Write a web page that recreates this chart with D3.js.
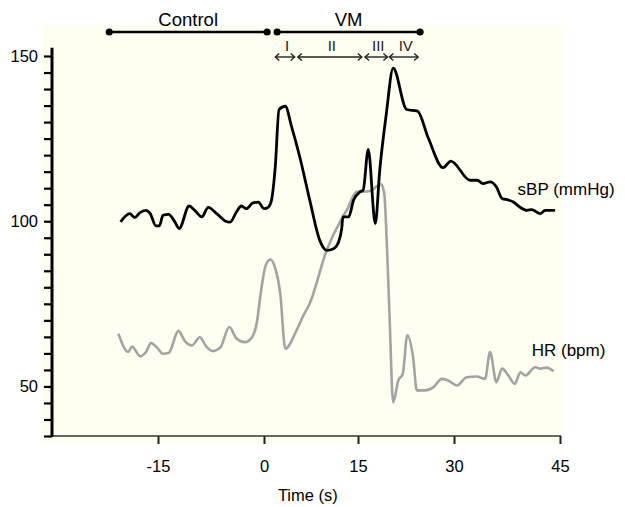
<!DOCTYPE html>
<html>
<head>
<meta charset="utf-8">
<script src="https://cdn.jsdelivr.net/npm/d3@7"></script>
<style>
  html, body { margin: 0; padding: 0; background: #fff; }
  svg { display: block; font-family: "Liberation Sans", Arial, Helvetica, sans-serif; }
</style>
</head>
<body>
<script>
(function(window, document, d3) {
  var WIDTH = 625;
  var HEIGHT = 507;

  // [time (s), systolic blood pressure (mmHg)]
  var SBP = [
    [-20.3, 99.8], [-19.0, 102.3], [-18.3, 101.1], [-17.6, 102.5], [-16.7, 103.3],
    [-16.1, 102.3], [-15.3, 98.6], [-14.8, 98.6], [-14.3, 101.8], [-13.5, 102.1],
    [-12.7, 100.1], [-12.0, 97.8], [-10.6, 104.6], [-9.8, 103.3], [-8.8, 101.3],
    [-7.9, 104.2], [-6.7, 102.3], [-5.5, 100.1], [-4.8, 99.7], [-3.9, 102.8],
    [-3.2, 104.6], [-2.5, 103.8], [-1.6, 105.5], [-0.8, 105.8], [0.0, 103.8],
    [0.7, 104.3], [1.2, 106.4], [1.8, 116.5], [2.4, 133.8], [3.4, 134.8],
    [4.4, 128.6], [5.7, 119.5], [7.3, 106.4], [8.9, 94.2], [10.0, 91.2],
    [11.1, 91.7], [11.9, 93.7], [12.4, 97.8], [12.6, 101.3], [13.5, 101.3],
    [14.3, 106.4], [15.3, 108.9], [15.8, 109.4], [16.6, 121.7], [17.7, 99.3],
    [18.4, 115.5], [19.4, 132.1], [20.5, 146.3], [22.6, 133.8], [24.3, 133.3],
    [26.0, 125.1], [28.3, 116.2], [29.5, 118.2], [32.3, 112.4], [33.3, 112.4],
    [34.1, 111.4], [35.1, 111.9], [36.0, 110.4], [36.8, 106.9], [37.7, 106.4],
    [38.4, 105.8], [39.3, 104.3], [40.3, 103.3], [41.0, 103.5], [42.2, 102.3],
    [42.9, 103.3], [44.3, 103.3]
  ];

  // [time (s), heart rate (bpm)]
  var HR = [
    [-20.6, 66.0], [-19.2, 60.4], [-18.7, 62.1], [-17.5, 59.1], [-16.7, 60.4],
    [-16.0, 63.1], [-15.2, 61.9], [-14.3, 59.9], [-13.5, 60.1], [-12.1, 66.8],
    [-11.2, 63.7], [-10.2, 62.4], [-9.1, 64.9], [-8.1, 61.9], [-7.2, 60.7],
    [-6.2, 61.7], [-4.9, 68.0], [-3.9, 64.5], [-2.7, 63.4], [-1.7, 64.9],
    [-1.0, 69.5], [-0.5, 77.6], [0.2, 86.2], [1.0, 88.4], [1.8, 85.7],
    [2.6, 78.1], [3.4, 61.4], [5.2, 67.0], [6.3, 71.5], [7.3, 75.1],
    [10.0, 91.2], [12.4, 100.8], [13.2, 103.3], [14.8, 108.9], [15.6, 108.9],
    [17.1, 109.2], [17.8, 110.4], [18.6, 111.2], [19.1, 108.4], [19.4, 98.3],
    [19.9, 73.0], [20.5, 45.2], [21.3, 51.8], [22.0, 53.8], [22.7, 65.5],
    [23.6, 58.9], [24.2, 48.8], [25.5, 48.8], [26.8, 49.8], [28.1, 52.3],
    [29.1, 51.8], [30.4, 50.3], [31.8, 52.8], [33.2, 53.0], [34.4, 52.3],
    [35.1, 60.4], [36.0, 51.3], [36.8, 55.4], [37.7, 53.3], [38.6, 50.8],
    [39.4, 54.3], [40.1, 53.3], [41.5, 55.8], [42.2, 55.4], [43.1, 55.7],
    [44.1, 54.6]
  ];

  var X_TICKS = [-15, 0, 15, 30, 45];
  var Y_TICKS = d3.range(35, 151, 5);
  var Y_LABELS = [50, 100, 150];

  var PERIODS = [
    {label: "Control", start: -21.9, end: 0.5},
    {label: "VM", start: 2.1, end: 24.7}
  ];
  var PHASES = [
    {label: "I", start: 1.8, end: 4.9},
    {label: "II", start: 5.4, end: 15.6},
    {label: "III", start: 16.1, end: 19.6},
    {label: "IV", start: 19.9, end: 24.4}
  ];

  // the original tick spacing is slightly uneven, so the scale is piecewise
  var x = d3.scaleLinear()
    .domain([-30, -15, 0, 15, 30, 45])
    .range([52, 158, 264, 358, 454, 560]);
  var y = d3.scaleLinear()
    .domain([35, 150])
    .range([436, 56]);

  var svg = d3.select("body").append("svg")
    .attr("width", WIDTH)
    .attr("height", HEIGHT);

  svg.append("rect")
    .attr("x", 42).attr("y", 25)
    .attr("width", 520).attr("height", 418)
    .attr("fill", "#fefef1");

  // x axis
  var xAxis = svg.append("g")
    .attr("transform", "translate(0," + y(35) + ")")
    .call(d3.axisBottom(x).tickValues(X_TICKS).tickSize(8).tickSizeOuter(0)
      .tickFormat(function(d) { return String(d); }));
  xAxis.select(".domain").remove();
  xAxis.append("line")
    .attr("x1", x(-30)).attr("x2", x(45) + 1)
    .attr("stroke", "#333").attr("stroke-width", 1.5);
  xAxis.selectAll(".tick line").attr("stroke", "#222").attr("stroke-width", 2);
  xAxis.selectAll(".tick text")
    .attr("y", 36).attr("dy", null)
    .attr("font-size", 16.5).attr("fill", "#000");

  // y axis
  var yAxis = svg.append("g")
    .attr("transform", "translate(" + x(-30) + ",0)")
    .call(d3.axisLeft(y).tickValues(Y_TICKS).tickSize(8).tickPadding(6)
      .tickFormat(function(d) { return Y_LABELS.indexOf(d) >= 0 ? d : ""; }));
  yAxis.select(".domain").remove();
  yAxis.append("line")
    .attr("y1", y(152.5)).attr("y2", y(35) + 1)
    .attr("stroke", "#000").attr("stroke-width", 3);
  yAxis.selectAll(".tick line").attr("stroke", "#000").attr("stroke-width", 2.2);
  yAxis.selectAll(".tick text").attr("font-size", 16.5).attr("fill", "#000");

  svg.append("text")
    .attr("x", x(7)).attr("y", 501)
    .attr("text-anchor", "middle")
    .attr("font-size", 16.5)
    .attr("fill", "#000")
    .text("Time (s)");

  var line = d3.line()
    .x(function(d) { return x(d[0]); })
    .y(function(d) { return y(d[1]); })
    .curve(d3.curveMonotoneX);

  svg.append("path")
    .datum(HR)
    .attr("d", line)
    .attr("fill", "none")
    .attr("stroke", "#a3a3a3")
    .attr("stroke-width", 2.6)
    .attr("stroke-linejoin", "round");

  svg.append("path")
    .datum(SBP)
    .attr("d", line)
    .attr("fill", "none")
    .attr("stroke", "#000")
    .attr("stroke-width", 2.8)
    .attr("stroke-linejoin", "round");

  svg.append("text")
    .attr("x", x(39)).attr("y", y(107.9))
    .attr("font-size", 17).attr("fill", "#000")
    .text("sBP (mmHg)");
  svg.append("text")
    .attr("x", x(41)).attr("y", y(59.2))
    .attr("font-size", 17).attr("fill", "#000")
    .text("HR (bpm)");

  // periods on top
  var BAR_Y = 32;
  var period = svg.selectAll(".period").data(PERIODS).enter().append("g");
  period.append("line")
    .attr("x1", function(d) { return x(d.start); })
    .attr("x2", function(d) { return x(d.end); })
    .attr("y1", BAR_Y).attr("y2", BAR_Y)
    .attr("stroke", "#000").attr("stroke-width", 2.5);
  period.selectAll("circle")
    .data(function(d) { return [d.start, d.end]; })
    .enter().append("circle")
    .attr("cx", function(d) { return x(d); })
    .attr("cy", BAR_Y)
    .attr("r", 3.6)
    .attr("fill", "#000");
  period.append("text")
    .attr("x", function(d) { return (x(d.start) + x(d.end)) / 2; })
    .attr("y", 26)
    .attr("text-anchor", "middle")
    .attr("font-size", 18.5)
    .attr("fill", "#000")
    .text(function(d) { return d.label; });

  // phase arrows
  var ARROW_Y = 57;
  var phase = svg.selectAll(".phase").data(PHASES).enter().append("g");
  phase.append("line")
    .attr("x1", function(d) { return x(d.start); })
    .attr("x2", function(d) { return x(d.end); })
    .attr("y1", ARROW_Y).attr("y2", ARROW_Y)
    .attr("stroke", "#222").attr("stroke-width", 1.4);
  phase.append("path")
    .attr("d", function(d) {
      var a = x(d.start), b = x(d.end);
      return "M" + (a + 4) + "," + (ARROW_Y - 3.5) + "L" + a + "," + ARROW_Y + "L" + (a + 4) + "," + (ARROW_Y + 3.5) +
        "M" + (b - 4) + "," + (ARROW_Y - 3.5) + "L" + b + "," + ARROW_Y + "L" + (b - 4) + "," + (ARROW_Y + 3.5);
    })
    .attr("fill", "none")
    .attr("stroke", "#222").attr("stroke-width", 1.4);
  phase.append("text")
    .attr("x", function(d) { return (x(d.start) + x(d.end)) / 2 + 2; })
    .attr("y", 51)
    .attr("text-anchor", "middle")
    .attr("font-size", 15)
    .attr("fill", "#222")
    .text(function(d) { return d.label; });

}).call(this, window, document, d3);
</script>
</body>
</html>
